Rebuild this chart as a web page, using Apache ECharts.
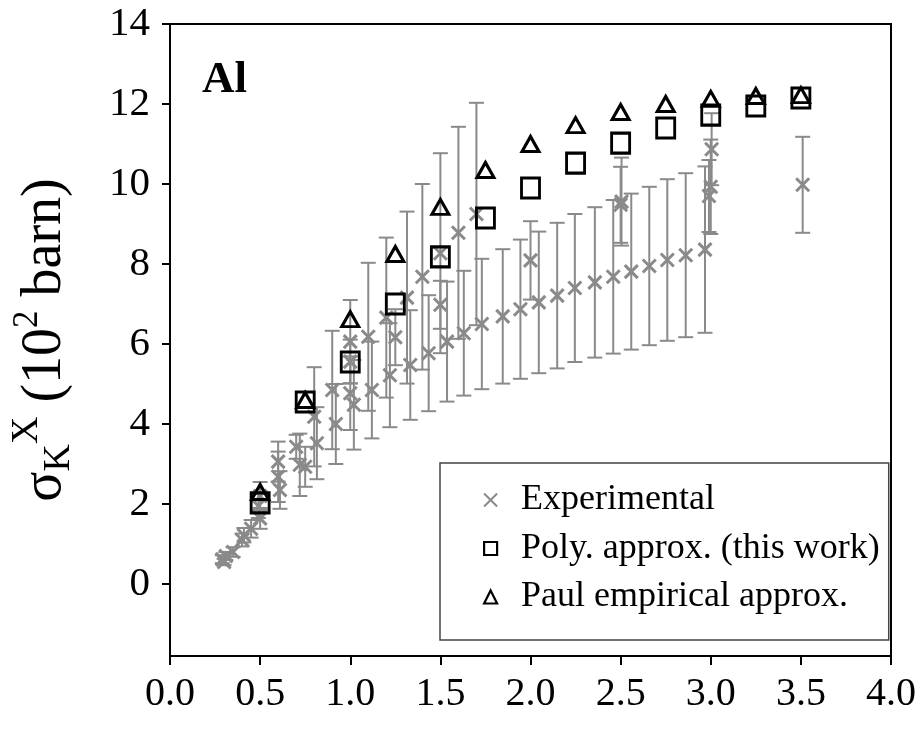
<!DOCTYPE html>
<html>
<head>
<meta charset="utf-8">
<script src="https://cdn.jsdelivr.net/npm/echarts@6/dist/echarts.min.js"></script>
<style>
html,body{margin:0;padding:0;background:#fff;}
#chart{width:920px;height:736px;}
</style>
</head>
<body>
<div id="chart"></div>
<script>
// ---- data ----
const xTicks = [0, 0.5, 1, 1.5, 2, 2.5, 3, 3.5, 4];
const yTicks = [0, 2, 4, 6, 8, 10, 12, 14];

const expX = [0.29, 0.30, 0.31, 0.35, 0.40, 0.41, 0.45, 0.50, 0.49, 0.50,
  0.60, 0.60, 0.61, 0.70, 0.72, 0.75, 0.80, 0.815, 0.90, 0.92,
  1.00, 1.00, 1.00, 1.02, 1.10, 1.12, 1.20, 1.22, 1.25, 1.315,
  1.333, 1.40, 1.435, 1.50, 1.50, 1.537, 1.60, 1.63, 1.70, 1.73,
  1.846, 1.944, 2.00, 2.046, 2.148, 2.246, 2.357, 2.459, 2.50, 2.505,
  2.559, 2.659, 2.759, 2.861, 2.968, 2.99, 3.00, 3.005, 3.51];
const expY = [0.62, 0.55, 0.70, 0.80, 1.10, 1.22, 1.38, 1.64, 1.95, 2.20,
  3.06, 2.68, 2.35, 3.43, 2.98, 2.93, 4.18, 3.52, 4.85, 4.00,
  6.06, 5.56, 4.77, 4.48, 6.18, 4.85, 6.66, 5.22, 6.17, 7.16,
  5.475, 7.68, 5.77, 8.27, 6.98, 6.06, 8.78, 6.27, 9.25, 6.50,
  6.69, 6.87, 8.09, 7.04, 7.21, 7.40, 7.54, 7.68, 9.48, 9.56,
  7.81, 7.95, 8.10, 8.22, 8.36, 9.70, 9.93, 10.87, 9.98];
const expErr = [0.10, 0.08, 0.10, 0.12, 0.16, 0.18, 0.22, 0.26, 0.30, 0.35,
  0.50, 0.63, 0.47, 0.30, 0.78, 0.50, 1.24, 0.90, 1.48, 1.00,
  1.04, 0.55, 0.92, 1.12, 1.85, 1.21, 2.00, 1.30, 0.70, 2.15,
  1.37, 2.32, 1.45, 2.50, 0.60, 1.50, 2.65, 1.56, 2.78, 1.63,
  1.68, 1.74, 0.98, 1.77, 1.82, 1.85, 1.88, 1.92, 0.95, 1.10,
  1.95, 1.98, 2.02, 2.05, 2.08, 0.90, 1.18, 0.90, 1.20];

const polyX = [0.5, 0.75, 1.0, 1.25, 1.5, 1.75, 2.0, 2.25, 2.5, 2.75, 3.0, 3.25, 3.5];
const polyY = [2.03, 4.55, 5.55, 7.0, 8.18, 9.15, 9.9, 10.52, 11.02, 11.4, 11.72, 11.95, 12.15];
const paulX = [0.5, 0.75, 1.0, 1.25, 1.5, 1.75, 2.0, 2.25, 2.5, 2.75, 3.0, 3.25, 3.5];
const paulY = [2.3, 4.6, 6.62, 8.25, 9.43, 10.35, 11.0, 11.47, 11.8, 12.0, 12.13, 12.2, 12.22];

const seriesNames = ['Experimental', 'Poly. approx. (this work)', 'Paul empirical approx.'];
const panelLabel = 'Al';

// ---- chart ----
const FONT = '"Liberation Serif", "Times New Roman", serif';
const GRAY = '#8a8a8a';
const CROSS = 'path://M0,0L10,10M10,0L0,10';

const chart = echarts.init(document.getElementById('chart'), null, {renderer: 'canvas'});

const option = {
  animation: false,
  backgroundColor: '#fff',
  title: {
    text: panelLabel,
    left: 197, top: 53,
    textStyle: {fontFamily: FONT, fontSize: 45, fontWeight: 'bold', color: '#000'}
  },
  grid: {
    left: 170, right: 29, top: 24, bottom: 80,
    outerBoundsMode: 'none',
    containLabel: false,
    show: true, borderColor: '#000', borderWidth: 2, backgroundColor: 'transparent'
  },
  xAxis: {
    type: 'value', min: 0, max: 4, interval: 0.5,
    axisLine: {onZero: false, lineStyle: {color: '#000', width: 2}},
    axisTick: {length: 9, lineStyle: {color: '#000', width: 2}},
    splitLine: {show: false},
    axisLabel: {
      fontFamily: FONT, fontSize: 40, color: '#000', margin: 18,
      formatter: v => v.toFixed(1)
    }
  },
  yAxis: {
    type: 'value', min: -1.8, max: 14,
    axisLine: {onZero: false, lineStyle: {color: '#000', width: 2}},
    axisTick: {length: 8, lineStyle: {color: '#000', width: 2}, customValues: yTicks},
    splitLine: {show: false},
    axisLabel: {fontFamily: FONT, fontSize: 41, color: '#000', margin: 20, customValues: yTicks},
    name: '{m|σ}{sub|K}{sup|X}{m| (10}{sup2|2}{m| barn)}',
    nameLocation: 'middle',
    nameRotate: 90,
    nameGap: 88,
    nameTextStyle: {
      fontFamily: FONT, fontSize: 56, color: '#000',
      rich: {
        m: {fontFamily: FONT, fontSize: 56, color: '#000'},
        sub: {fontFamily: FONT, fontSize: 38, color: '#000', padding: [28, 0, 0, 0]},
        sup: {fontFamily: FONT, fontSize: 38, color: '#000', padding: [0, 0, 36, 0]},
        sup2: {fontFamily: FONT, fontSize: 35, color: '#000', padding: [0, 0, 34, 0]}
      }
    }
  },
  legend: {
    orient: 'vertical',
    left: 440, top: 463,
    padding: [17, 9, 23, 43],
    borderColor: '#444', borderWidth: 1.5,
    itemWidth: 13, itemHeight: 13, itemGap: 8.5,
    textStyle: {fontFamily: FONT, fontSize: 36, color: '#000', lineHeight: 40, padding: [0, 0, 0, 19]},
    data: [
      {name: seriesNames[0], icon: CROSS, itemStyle: {color: 'transparent', borderColor: GRAY, borderWidth: 2}},
      {name: seriesNames[1], icon: 'rect', itemStyle: {color: 'transparent', borderColor: '#000', borderWidth: 2.2}},
      {name: seriesNames[2], icon: 'triangle', itemStyle: {color: 'transparent', borderColor: '#000', borderWidth: 2.2}}
    ]
  },
  series: [
    {
      type: 'custom',
      name: 'errorbars',
      silent: true,
      z: 1,
      encode: {x: 0, y: [1, 2]},
      data: expX.map((x, i) => [x, expY[i] - expErr[i], expY[i] + expErr[i]]),
      renderItem: (params, api) => {
        const x = api.value(0);
        const lo = api.coord([x, api.value(1)]);
        const hi = api.coord([x, api.value(2)]);
        const hw = 7.5;
        const style = {stroke: GRAY, lineWidth: 2};
        return {
          type: 'group',
          children: [
            {type: 'line', shape: {x1: lo[0], y1: lo[1], x2: hi[0], y2: hi[1]}, style},
            {type: 'line', shape: {x1: lo[0] - hw, y1: lo[1], x2: lo[0] + hw, y2: lo[1]}, style},
            {type: 'line', shape: {x1: hi[0] - hw, y1: hi[1], x2: hi[0] + hw, y2: hi[1]}, style}
          ]
        };
      }
    },
    {
      type: 'scatter',
      name: seriesNames[0],
      z: 2,
      symbol: CROSS,
      symbolSize: 13,
      itemStyle: {color: 'transparent', borderColor: GRAY, borderWidth: 3, opacity: 1},
      data: expX.map((x, i) => [x, expY[i]])
    },
    {
      type: 'scatter',
      name: seriesNames[1],
      z: 3,
      symbol: 'rect',
      symbolSize: [18, 20],
      itemStyle: {color: 'transparent', borderColor: '#000', borderWidth: 3, opacity: 1},
      data: polyX.map((x, i) => [x, polyY[i]])
    },
    {
      type: 'scatter',
      name: seriesNames[2],
      z: 4,
      symbol: 'triangle',
      symbolSize: [17, 15],
      itemStyle: {color: 'transparent', borderColor: '#000', borderWidth: 3, opacity: 1},
      data: paulX.map((x, i) => [x, paulY[i]])
    }
  ]
};
chart.setOption(option);
</script>
</body>
</html>
